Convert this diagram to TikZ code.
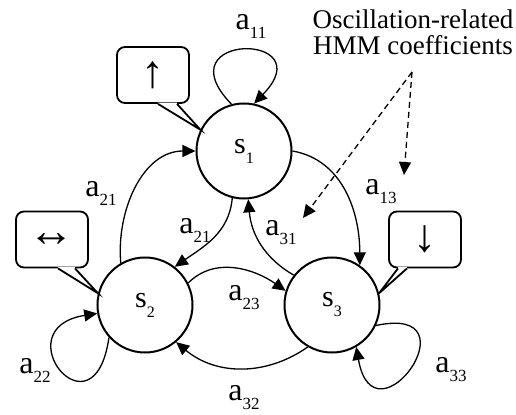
\documentclass[tikz,border=0pt]{standalone}
\usepackage{fontspec}
\setmainfont{Liberation Serif}
\usetikzlibrary{arrows.meta}
\newcommand{\trn}[1]{a\raisebox{-4.5pt}{\fontsize{8.5}{10}\selectfont #1}}
\newcommand{\stt}[1]{s\raisebox{-5pt}{\fontsize{8}{10}\selectfont #1}}
\begin{document}
\begin{tikzpicture}[x=0.5pt,y=0.5pt,
  state/.style={circle,draw,line width=1pt,minimum size=47.5pt,inner sep=0pt,font=\fontsize{15}{18}\selectfont},
  bubble/.style={draw,rounded corners=4pt,line width=0.9pt,minimum width=36pt,minimum height=28pt,inner sep=0pt,font=\fontsize{23}{24}\selectfont},
  tail/.style={line width=0.9pt},
  conn/.style={line width=0.65pt,-{Triangle[length=6.5pt,width=6pt]}},
  hint/.style={line width=0.65pt,dash pattern=on 3pt off 2pt,-{Triangle[length=6.5pt,width=6pt]}},
  coef/.style={font=\fontsize{16}{18}\selectfont,inner sep=0pt}]
  \useasboundingbox (0,0) rectangle (516,414);
  % states
  \node[state] (s1) at (244,263) {\stt{1}};
  \node[state] (s2) at (145,109) {\stt{2}};
  \node[state] (s3) at (332,109) {\stt{3}};
  % bubbles
  \node[bubble] (up) at (153,339) {↑};
  \node[bubble] (lr) at (52,174.5) {↔};
  \node[bubble] (dn) at (425,174.5) {↓};
  \fill[white] ([xshift=2.5pt,yshift=0.6pt]up.south) -- ([xshift=2.5pt]up.south) -- (s1.154) -- ([xshift=12pt]up.south) -- ([xshift=12pt,yshift=0.6pt]up.south) -- cycle;
  \draw[tail] ([xshift=2.5pt]up.south) -- (s1.154) -- ([xshift=12pt]up.south);
  \fill[white] ([xshift=3pt,yshift=0.6pt]lr.south) -- ([xshift=3pt]lr.south) -- (s2.166) -- ([xshift=11.5pt]lr.south) -- ([xshift=11.5pt,yshift=0.6pt]lr.south) -- cycle;
  \draw[tail] ([xshift=3pt]lr.south) -- (s2.166) -- ([xshift=11.5pt]lr.south);
  \fill[white] ([xshift=-13.5pt,yshift=0.6pt]dn.south) -- ([xshift=-13.5pt]dn.south) -- (s3.14) -- ([xshift=-9pt]dn.south) -- ([xshift=-9pt,yshift=0.6pt]dn.south) -- cycle;
  \draw[tail] ([xshift=-13.5pt]dn.south) -- (s3.14) -- ([xshift=-9pt]dn.south);
  % transitions
  \draw[conn] (s2.120) to[out=95,in=180] (s1.180);
  \draw[conn] (s1.256) to[out=265,in=35] (s2.52);
  \draw[conn] (s3.142) to[out=150,in=275] (s1.275);
  \draw[conn] (s2.27) to[out=45,in=145] (s3.163);
  \draw[conn] (s3.240) to[out=215,in=-40] (s2.310);
  \draw[conn] (s1.0) to[out=-10,in=90] (s3.55);
  \draw[conn] (s1.105) .. controls +(-70,72) and +(70,72) .. (s1.78);
  \draw[conn] (s2.222) .. controls +(-15,-105) and +(-95,-15) .. (s2.190);
  \draw[conn] (s3.-25) .. controls +(102,22) and +(18,-102) .. (s3.-60);
  % coefficients
  \node[coef] (l11) at (251,388) {\trn{11}};
  \node[coef] (l21o) at (101,221) {\trn{21}};
  \node[coef] (l21i) at (195,184) {\trn{21}};
  \node[coef] (l31) at (281,181) {\trn{31}};
  \node[coef] (l13) at (381,222) {\trn{13}};
  \node[coef] (l23) at (244,116) {\trn{23}};
  \node[coef] (l32) at (244,16) {\trn{32}};
  \node[coef] (l22) at (35,44) {\trn{22}};
  \node[coef] (l33) at (451,44) {\trn{33}};
  % note
  \node[align=center,font=\fontsize{13.5}{13}\selectfont] (note) at (413,382) {Oscillation-related\\HMM coefficients};
  \coordinate (fork) at (412,342);
  \coordinate (hint1) at (303,196);
  \coordinate (hint2) at (404,239);
  \draw[hint] (fork) -- (hint1);
  \draw[hint] (fork) -- (hint2);
\end{tikzpicture}
\end{document}
